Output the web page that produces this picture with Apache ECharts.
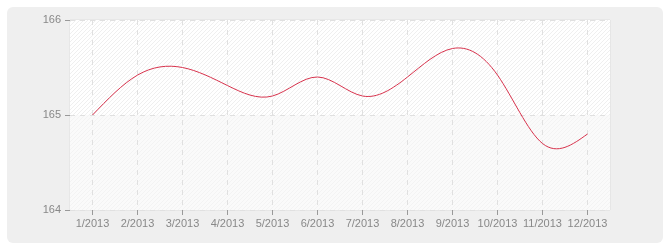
<!DOCTYPE html>
<html><head><meta charset="utf-8">
<script src="https://cdn.jsdelivr.net/npm/echarts@6/dist/echarts.min.js"></script>
<style>
html,body{margin:0;padding:0;background:#fff;}
#wrap{position:relative;width:670px;height:250px;}
#panel{position:absolute;left:7px;top:7px;width:656px;height:236px;background:#efefef;border-radius:6px;}
#chart{position:absolute;left:0;top:0;width:670px;height:250px;}
</style></head>
<body>
<div id="wrap"><div id="panel"></div><div id="chart"></div></div>
<script>
const categories = ['1/2013','2/2013','3/2013','4/2013','5/2013','6/2013','7/2013','8/2013','9/2013','10/2013','11/2013','12/2013'];
const values = [165.0, 165.42, 165.5, 165.31, 165.2, 165.4, 165.2, 165.4, 165.7, 165.42, 164.7, 164.8];
const yMin = 164, yMax = 166, yStep = 1;

function hatch(base, line){
  const c = document.createElement('canvas');
  c.width = 4; c.height = 4;
  const g = c.getContext('2d');
  g.fillStyle = base; g.fillRect(0,0,4,4);
  g.strokeStyle = line; g.lineWidth = 1;
  g.beginPath();
  g.moveTo(0,4); g.lineTo(4,0);
  g.moveTo(-1,1); g.lineTo(1,-1);
  g.moveTo(3,5); g.lineTo(5,3);
  g.stroke();
  return {image: c, repeat: 'repeat'};
}

// natural cubic spline second derivatives, computed on the axis-mapped pixel positions
function naturalM(y){
  const n=y.length, M=new Array(n).fill(0);
  const a=[],b=[],c=[],d=[];
  for(let i=1;i<n-1;i++){a.push(1);b.push(4);c.push(1);d.push(6*(y[i+1]-2*y[i]+y[i-1]));}
  const m=d.length;
  for(let i=1;i<m;i++){const w=a[i]/b[i-1];b[i]-=w*c[i-1];d[i]-=w*d[i-1];}
  const s=new Array(m);
  s[m-1]=d[m-1]/b[m-1];
  for(let i=m-2;i>=0;i--) s[i]=(d[i]-c[i]*s[i+1])/b[i];
  for(let i=0;i<m;i++) M[i+1]=s[i];
  return M;
}

const splineSeries = {
  type:'custom', data: values.map((v,i)=>[i,v]), encode:{x:0,y:1}, z:5,
  renderItem:function(params, api){
    const i = params.dataIndex, n = values.length;
    if(i>=n-1) return null;
    const P = values.map((v,j)=>api.coord([j,v]));
    const p0=P[i], p1=P[i+1];
    const Y=P.map(p=>p[1]);
    const M=naturalM(Y);
    const h=p1[0]-p0[0];
    const d0=(Y[i+1]-Y[i])-(2*M[i]+M[i+1])/6;
    const d1=(Y[i+1]-Y[i])+(M[i]+2*M[i+1])/6;
    return {type:'bezierCurve',
      shape:{x1:p0[0],y1:p0[1],x2:p1[0],y2:p1[1],cpx1:p0[0]+h/3,cpy1:Y[i]+d0/3,cpx2:p0[0]+2*h/3,cpy2:Y[i+1]-d1/3},
      style:{stroke:'#d8334d', fill:null, lineWidth:1}};
  }
};

const chart = echarts.init(document.getElementById('chart'), null, {renderer:'canvas'});
const txt = {color:'#888', fontFamily:'Liberation Sans', fontSize:11};
chart.setOption({
  backgroundColor:'transparent',
  animation:false,
  grid:{left:70, top:20, right:60, bottom:40, show:true, backgroundColor:'#fff', borderColor:'#dedede', borderWidth:1},
  xAxis:{
    type:'category', data:categories, boundaryGap:true,
    axisLine:{show:false},
    axisTick:{show:true, interval:0, alignWithLabel:true, length:5, lineStyle:{color:'#999'}},
    axisLabel:Object.assign({margin:8, interval:0}, txt),
    splitLine:{show:true, interval:0, alignWithLabel:true, lineStyle:{color:'#e0e0e0', type:[5,5]}}
  },
  yAxis:{
    type:'value', min:yMin, max:yMax, interval:yStep,
    axisLine:{show:false},
    axisTick:{show:true, length:5, lineStyle:{color:'#999'}},
    axisLabel:Object.assign({margin:9}, txt),
    splitLine:{show:true, lineStyle:{color:'#e0e0e0', type:[5,5]}},
    splitArea:{show:true, areaStyle:{color:[hatch('#fafafa','#f3f3f3'), hatch('#ffffff','#efefef')]}}
  },
  series:[splineSeries]
});
</script>
</body></html>
